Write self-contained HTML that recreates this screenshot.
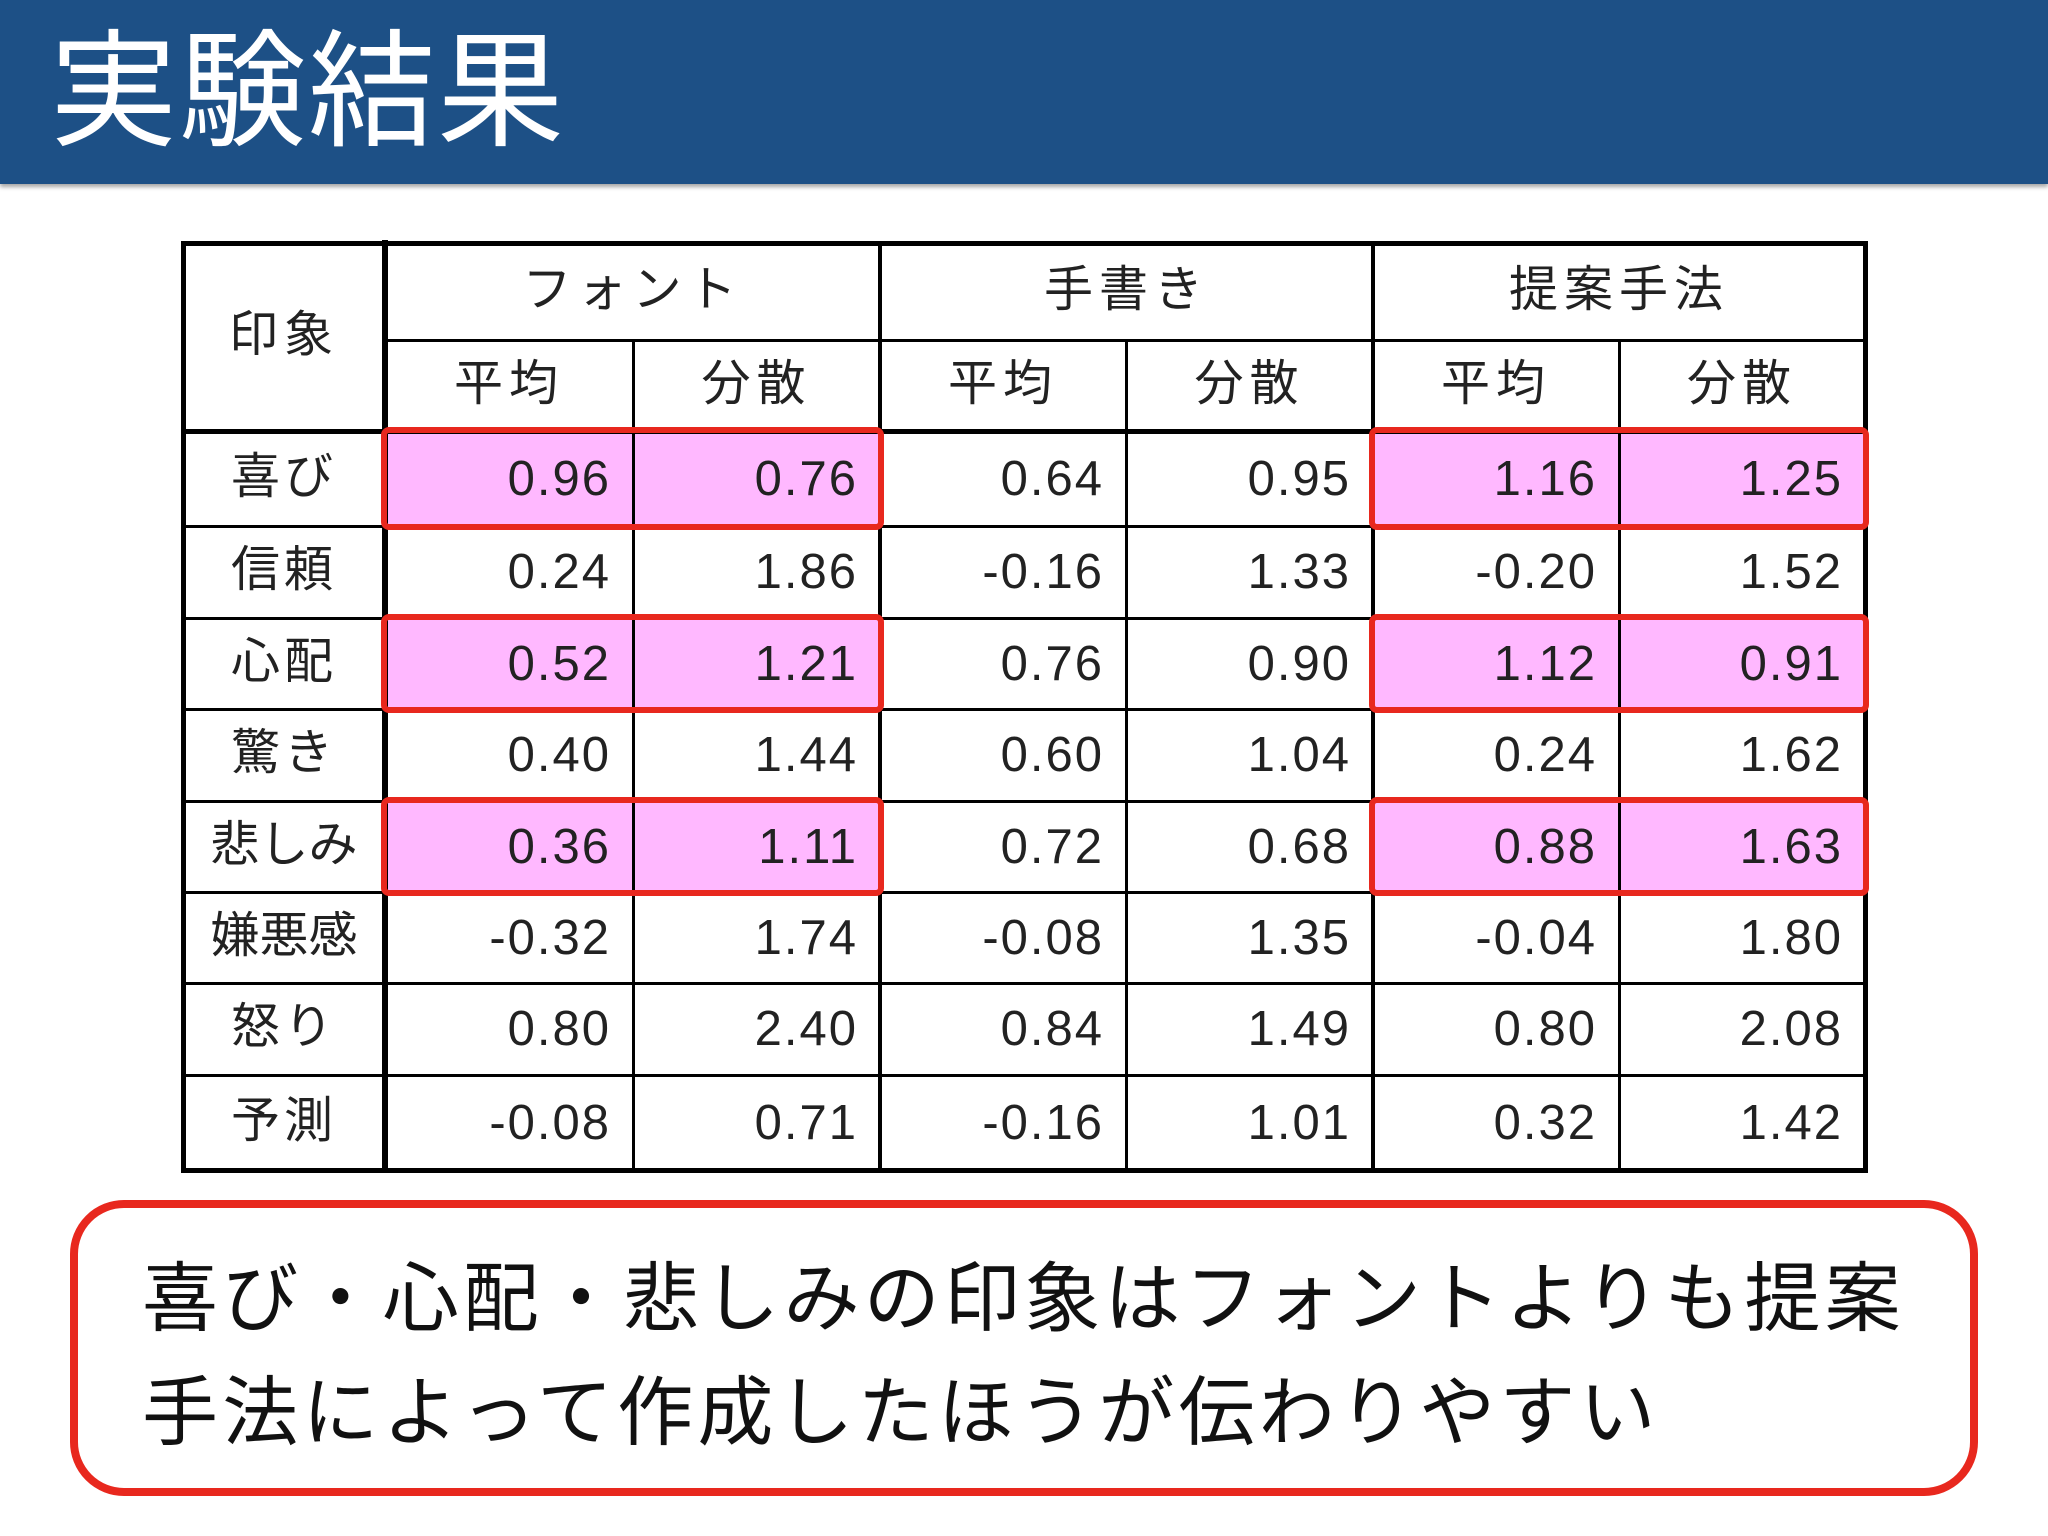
<!DOCTYPE html>
<html><head><meta charset="utf-8"><style>
body{margin:0;width:2048px;height:1536px;background:#fff;position:relative;overflow:hidden;font-family:"Liberation Sans","Noto Sans CJK JP",sans-serif}
.hdr{position:absolute;left:0;top:0;width:2048px;height:184px;background:#1d5086;box-shadow:0 3px 4px rgba(0,0,0,.35)}
.ttl{position:absolute;left:50px;top:17px;font-size:127px;color:#fff;line-height:150px;letter-spacing:2px}
.c{position:absolute;font-size:49px;color:#222;line-height:1}
.h{position:absolute;background:#000}
.pk{position:absolute;background:#ffb8ff}
.rb{position:absolute;border:6px solid #e8281e;border-radius:8px;box-sizing:border-box}
.box{position:absolute;left:70px;top:1200px;width:1908px;height:296px;border:8px solid #e8281e;border-radius:54px;box-sizing:border-box}
.bt{position:absolute;left:142px;font-size:76px;color:#111;line-height:1;letter-spacing:4.2px}
</style></head><body>
<div class="hdr"><div class="ttl">実験結果</div></div>
<div id="t"></div>
<div class="box"></div>
<div class="bt" style="top:1262px">喜び・心配・悲しみの印象はフォントよりも提案</div>
<div class="bt" style="top:1376px">手法によって作成したほうが伝わりやすい</div>
<script>
const X=[183,385,633,880,1126,1373,1619,1865];
const Y=[243,340,431,526,618,709,801,892,983,1075,1170];
const t=document.getElementById('t');let h='';
[0,2,4].forEach(r=>{[[1,3],[5,7]].forEach(([a,b])=>{h+=`<div class="pk" style="left:${X[a]}px;top:${Y[r+2]}px;width:${X[b]-X[a]}px;height:${Y[r+3]-Y[r+2]}px"></div>`})});
function hl(x1,x2,y,w){h+=`<div class="h" style="left:${x1-w/2}px;top:${y-w/2}px;width:${x2-x1+w}px;height:${w}px"></div>`}
function vl(x,y1,y2,w){h+=`<div class="h" style="left:${x-w/2}px;top:${y1-w/2}px;width:${w}px;height:${y2-y1+w}px"></div>`}
hl(X[0],X[7],Y[0],5);hl(X[1],X[7],Y[1],3);hl(X[0],X[7],Y[2],5);
for(let i=3;i<10;i++)hl(X[0],X[7],Y[i],3);
hl(X[0],X[7],Y[10],5);
vl(X[0],Y[0],Y[10],5);vl(X[7],Y[0],Y[10],5);vl(X[1],Y[0],Y[10],6);
vl(X[3],Y[0],Y[10],4);vl(X[5],Y[0],Y[10],4);
[2,4,6].forEach(i=>vl(X[i],Y[1],Y[10],3));
[0,2,4].forEach(r=>{[[1,3],[5,7]].forEach(([a,b])=>{h+=`<div class="rb" style="left:${X[a]-4}px;top:${Y[r+2]-4}px;width:${X[b]-X[a]+8}px;height:${Y[r+3]-Y[r+2]+8}px"></div>`})});
function ctr(x1,x2,y1,y2,s){h+=`<div class="c" style="left:${x1}px;width:${x2-x1}px;top:${(y1+y2)/2-26}px;text-align:center;letter-spacing:6px">${s}</div>`}
ctr(X[0],X[1],Y[0],Y[2],'印象');
ctr(X[1],X[3],Y[0],Y[1],'フォント');ctr(X[3],X[5],Y[0],Y[1],'手書き');ctr(X[5],X[7],Y[0],Y[1],'提案手法');
for(let i=1;i<7;i++)ctr(X[i],X[i+1],Y[1],Y[2],i%2?'平均':'分散');
const rows=[['喜び','0.96','0.76','0.64','0.95','1.16','1.25'],['信頼','0.24','1.86','-0.16','1.33','-0.20','1.52'],['心配','0.52','1.21','0.76','0.90','1.12','0.91'],['驚き','0.40','1.44','0.60','1.04','0.24','1.62'],['悲しみ','0.36','1.11','0.72','0.68','0.88','1.63'],['嫌悪感','-0.32','1.74','-0.08','1.35','-0.04','1.80'],['怒り','0.80','2.40','0.84','1.49','0.80','2.08'],['予測','-0.08','0.71','-0.16','1.01','0.32','1.42']];
rows.forEach((r,ri)=>{const y1=Y[ri+2],y2=Y[ri+3];
h+=`<div class="c" style="left:${X[0]}px;width:${X[1]-X[0]}px;top:${(y1+y2)/2-26}px;text-align:center;letter-spacing:${r[0].length>2?0:4}px">${r[0]}</div>`;
for(let j=1;j<7;j++)h+=`<div class="c" style="left:${X[j]}px;width:${X[j+1]-X[j]-22}px;top:${(y1+y2)/2-24}px;text-align:right;letter-spacing:2px">${r[j]}</div>`;});
t.innerHTML=h;
</script>
</body></html>
